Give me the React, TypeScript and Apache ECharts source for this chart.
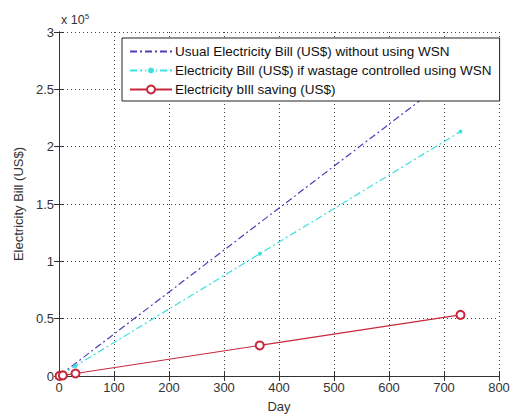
import React, { useEffect, useRef } from "react";
import * as echarts from "echarts";

const days = [1, 7, 30, 365, 730];
const usualBill = [366, 2562, 10980, 133590, 267180];
const wsnBill = [292, 2044, 8760, 106580, 213160];
const saving = [73, 511, 2190, 26650, 53300];
const seriesNames = [
  "Usual Electricity Bill (US$) without using WSN",
  "Electricity Bill (US$) if wastage controlled using WSN",
  "Electricity bIll saving (US$)",
];

const FONT = "Liberation Sans, Arial, sans-serif";

export default function App() {
  const ref = useRef<HTMLDivElement>(null);
  useEffect(() => {
    const chart = echarts.init(ref.current!, null, { renderer: "svg" });
    const pairs = (ys: number[]) => days.map((d, i) => [d, ys[i]]);
    const grid = { left: 59, right: 20, top: 32, bottom: 38 };
    const tickStyle = { show: true, inside: true, length: 5, lineStyle: { color: "#333" } };
    const axisLine = { show: true, lineStyle: { color: "#333", width: 1 } };
    chart.setOption({
      animation: false,
      backgroundColor: "#fff",
      grid,
      textStyle: { fontFamily: FONT },
      xAxis: [
        {
          type: "value",
          min: 0,
          max: 800,
          interval: 100,
          name: "Day",
          nameLocation: "middle",
          nameGap: 24,
          nameTextStyle: { fontSize: 13, color: "#333", fontFamily: FONT },
          axisLine,
          axisTick: tickStyle,
          axisLabel: { fontSize: 13, color: "#333", margin: 5, fontFamily: FONT },
          splitLine: { show: true, lineStyle: { type: [1, 3], color: "#444" } },
        },
        {
          type: "value",
          position: "top",
          min: 0,
          max: 800,
          interval: 100,
          axisLine,
          axisTick: tickStyle,
          axisLabel: { show: false },
          splitLine: { show: false },
        },
      ],
      yAxis: [
        {
          type: "value",
          min: 0,
          max: 300000,
          interval: 50000,
          name: "Electricity Bill (US$)",
          nameLocation: "middle",
          nameGap: 29,
          nameTextStyle: { fontSize: 13, color: "#333", fontFamily: FONT },
          axisLine,
          axisTick: tickStyle,
          axisLabel: {
            fontSize: 13,
            color: "#333",
            margin: 5,
            fontFamily: FONT,
            formatter: (v: number) => String(v / 100000),
          },
          splitLine: { show: true, lineStyle: { type: [1, 3], color: "#444" } },
        },
        {
          type: "value",
          position: "right",
          min: 0,
          max: 300000,
          interval: 50000,
          axisLine,
          axisTick: tickStyle,
          axisLabel: { show: false },
          splitLine: { show: false },
        },
      ],
      legend: {
        orient: "vertical",
        left: 122,
        top: 38,
        padding: [6, 8, 4, 7],
        itemGap: 4,
        itemWidth: 42,
        itemHeight: 10,
        borderColor: "#222",
        borderWidth: 1,
        backgroundColor: "#fff",
        textStyle: {
          fontSize: 13.5,
          lineHeight: 15,
          color: "#111",
          fontFamily: FONT,
          padding: [0, 0, 0, -2],
        },
        data: [
          { name: seriesNames[0], itemStyle: { opacity: 0 } },
          { name: seriesNames[1], itemStyle: { borderColor: "#fff", borderWidth: 2 } },
          { name: seriesNames[2] },
        ],
      },
      graphic: [
        {
          type: "text",
          left: 61,
          top: 12,
          style: {
            text: "x 10{s|5}",
            fontSize: 12.5,
            fill: "#333",
            fontFamily: FONT,
            rich: { s: { fontSize: 8, verticalAlign: "top", padding: [0, 0, 8, 0], fill: "#333" } },
          },
        },
      ],
      series: [
        {
          name: seriesNames[0],
          type: "line",
          data: pairs(usualBill),
          symbol: "none",
          lineStyle: { color: "#4b3fb8", width: 1.2, type: [7, 3, 2, 3] },
          itemStyle: { color: "#4b3fb8" },
          z: 2,
        },
        {
          name: seriesNames[1],
          type: "line",
          data: pairs(wsnBill),
          symbol: "circle",
          symbolSize: 4,
          lineStyle: { color: "#3fe0e0", width: 1.2, type: [7, 3, 2, 3] },
          itemStyle: { color: "#3fe0e0" },
          z: 3,
        },
        {
          name: seriesNames[2],
          type: "line",
          data: pairs(saving),
          symbol: "emptyCircle",
          symbolSize: 8,
          lineStyle: { color: "#c8283c", width: 1.2 },
          itemStyle: { color: "#c8283c", borderColor: "#c8283c", borderWidth: 1.2 },
          z: 4,
        },
      ],
    });
    return () => chart.dispose();
  }, []);
  return (
    <div
      ref={ref}
      style={{ position: "fixed", left: 0, top: 0, width: 519, height: 418 }}
    />
  );
}
